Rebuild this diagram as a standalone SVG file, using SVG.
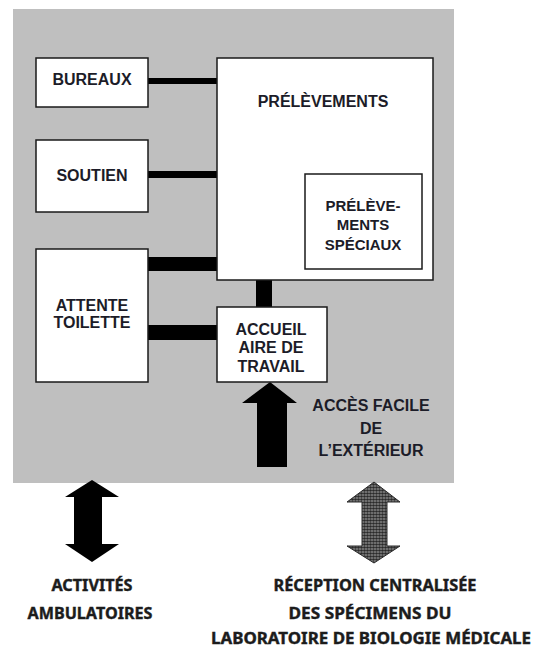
<svg xmlns="http://www.w3.org/2000/svg" width="539" height="650" viewBox="0 0 539 650">
  <style>
    .room { fill: #ffffff; stroke: #1a1a1a; stroke-width: 1.5; }
    .lbl { font-family: "Liberation Sans", Arial, sans-serif; font-weight: bold; font-size: 16px; fill: #1c1c28; text-anchor: middle; }
    .lbl-sm { font-size: 15px; }
    .ext { font-family: "Noto Sans", "Open Sans", sans-serif; font-weight: bold; font-size: 16px; fill: #1c1c1c; stroke: #1c1c1c; stroke-width: 0.4; text-anchor: middle; }
    .link { fill: #000000; }
  </style>
  <defs>
    <pattern id="dots" width="3" height="3" patternUnits="userSpaceOnUse">
      <rect width="3" height="3" fill="#8e8e8e"/>
      <circle cx="1.5" cy="1.5" r="1.35" fill="#2a2a2a"/>
    </pattern>
  </defs>

  <!-- laboratory floor area -->
  <rect id="floor" x="13" y="9" width="441" height="474" fill="#bfbfbf"/>

  <!-- corridors between rooms -->
  <g id="connectors">
    <rect class="link" x="148" y="78" width="69" height="6"/>
    <rect class="link" x="148" y="171" width="69" height="7"/>
    <rect class="link" x="148" y="257" width="69" height="14"/>
    <rect class="link" x="146" y="325" width="71" height="15"/>
    <rect class="link" x="256" y="280" width="16" height="27"/>
    <!-- access from outside -->
    <path class="link" d="M270,382 L297,403 L287,403 L287,467 L257,467 L257,403 L242,403 Z"/>
    <!-- ambulatory flow -->
    <path class="link" d="M92,480 L119,497 L102,497 L102,544 L119,544 L92,562 L65,544 L74,544 L74,497 L65,497 Z"/>
    <!-- specimen reception flow -->
    <path d="M374,482 L400,502 L387,502 L387,546 L400,546 L374,563 L347,546 L362,546 L362,502 L347,502 Z" fill="url(#dots)" stroke="#2a2a2a" stroke-width="1"/>
  </g>

  <g id="bureaux">
    <rect class="room" x="36" y="58" width="112" height="49"/>
    <text class="lbl" x="92" y="85">BUREAUX</text>
  </g>

  <g id="soutien">
    <rect class="room" x="36" y="140" width="112" height="72"/>
    <text class="lbl" x="92" y="181">SOUTIEN</text>
  </g>

  <g id="prelevements">
    <rect class="room" x="217" y="58" width="216" height="222"/>
    <text class="lbl" x="323" y="107">PRÉLÈVEMENTS</text>
  </g>

  <g id="prelevements-speciaux">
    <rect class="room" x="305" y="174" width="117" height="95"/>
    <text class="lbl lbl-sm" x="363" y="211">PRÉLÈVE-</text>
    <text class="lbl lbl-sm" x="363" y="230">MENTS</text>
    <text class="lbl lbl-sm" x="363" y="250">SPÉCIAUX</text>
  </g>

  <g id="attente">
    <rect class="room" x="36" y="249" width="112" height="133"/>
    <text class="lbl" x="92" y="311">ATTENTE</text>
    <text class="lbl" x="92" y="328">TOILETTE</text>
  </g>

  <g id="accueil">
    <rect class="room" x="217" y="307" width="110" height="75"/>
    <text class="lbl" x="271" y="335">ACCUEIL</text>
    <text class="lbl" x="271" y="353">AIRE DE</text>
    <text class="lbl" x="271" y="372">TRAVAIL</text>
  </g>

  <g id="acces">
    <text class="lbl" x="371" y="411">ACCÈS FACILE</text>
    <text class="lbl" x="371" y="434">DE</text>
    <text class="lbl" x="371" y="456">L’EXTÉRIEUR</text>
  </g>

  <g id="ambulatoires">
    <text class="ext" x="92" y="591" textLength="81" lengthAdjust="spacingAndGlyphs">ACTIVITÉS</text>
    <text class="ext" x="90" y="619" textLength="125" lengthAdjust="spacingAndGlyphs">AMBULATOIRES</text>
  </g>

  <g id="reception">
    <text class="ext" x="375" y="591" textLength="203" lengthAdjust="spacingAndGlyphs">RÉCEPTION CENTRALISÉE</text>
    <text class="ext" x="370" y="619" textLength="163" lengthAdjust="spacingAndGlyphs">DES SPÉCIMENS DU</text>
    <text class="ext" x="371" y="644" textLength="320" lengthAdjust="spacingAndGlyphs">LABORATOIRE DE BIOLOGIE MÉDICALE</text>
  </g>
</svg>
